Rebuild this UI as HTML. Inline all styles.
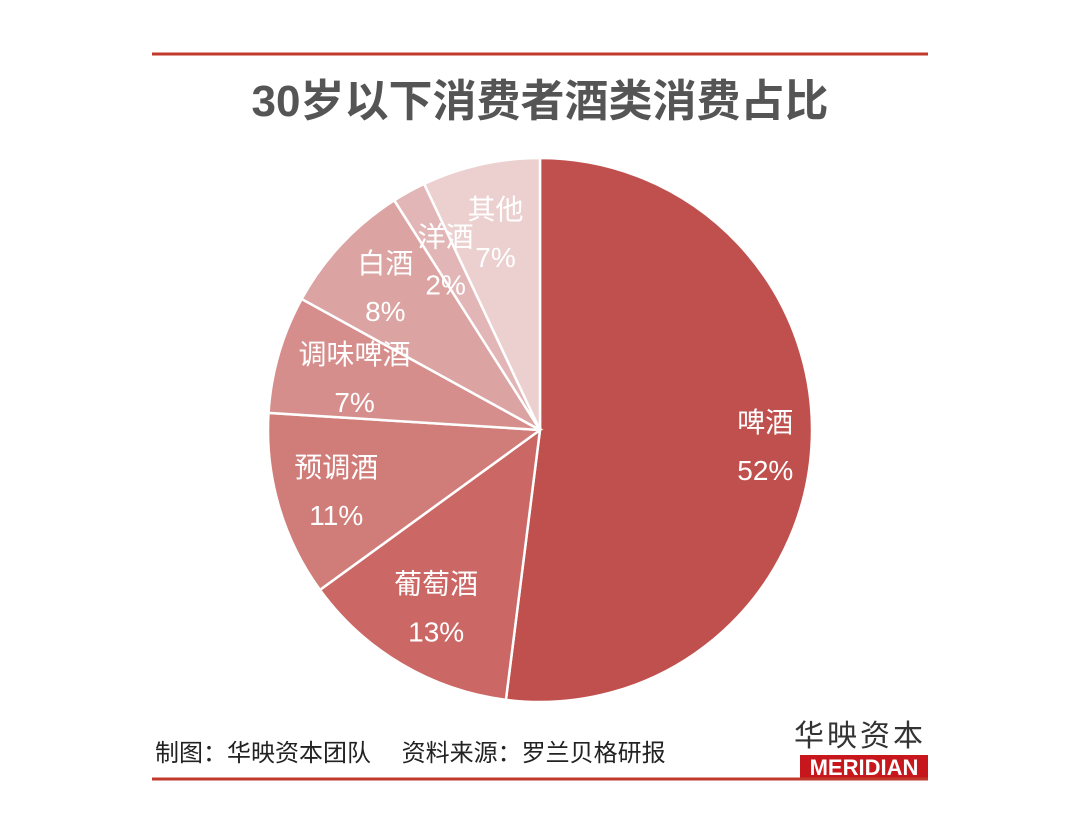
<!DOCTYPE html>
<html><head><meta charset="utf-8"><style>
body{margin:0;background:#fff;}
svg{display:block;}
</style></head><body>
<svg width="1080" height="818" viewBox="0 0 1080 818">
<line x1="152" y1="54" x2="928" y2="54" stroke="#c0392b" stroke-width="3"/>
<text x="540" y="116" text-anchor="middle" font-family="'Liberation Sans','Noto Sans CJK SC',sans-serif" font-size="44" font-weight="bold" fill="#555">30岁以下消费者酒类消费占比</text>
<g id="pie"></g>
<text x="155" y="761" font-family="'Liberation Sans','Noto Sans CJK SC',sans-serif" font-size="24" fill="#222">制图：华映资本团队　 资料来源：罗兰贝格研报</text>
<text x="860" y="746" text-anchor="middle" font-family="'Liberation Sans','Noto Sans CJK SC',sans-serif" font-size="30" fill="#333" letter-spacing="3">华映资本</text>
<rect x="800" y="755" width="128" height="24" fill="#c8161d"/>
<text x="864" y="775" text-anchor="middle" font-family="'Liberation Sans',sans-serif" font-size="22" font-weight="bold" fill="#fff">MERIDIAN</text>
<line x1="152" y1="779" x2="928" y2="779" stroke="#c0392b" stroke-width="3"/>
</svg>
<script>
const categories=["啤酒","葡萄酒","预调酒","调味啤酒","白酒","洋酒","其他"];
const values=[52,13,11,7,8,2,7];
const labels=["52%","13%","11%","7%","8%","2%","7%"];
const colors=["#c0504d","#cb6764","#d07d7a","#d58e8b","#dba3a2","#e2b6b6","#ebd0cf"];
const cx=540,cy=430,R=272;
const labelR=[0.83,0.75,0.78,0.71,0.78,0.72,0.75];
const g=document.getElementById('pie');
const NS="http://www.w3.org/2000/svg";
const total=values.reduce((a,b)=>a+b,0);
function pt(a,r){return [cx+r*Math.sin(a),cy-r*Math.cos(a)];}
let acc=0;
values.forEach((v,i)=>{
  const a0=acc/total*2*Math.PI; acc+=v; const a1=acc/total*2*Math.PI;
  const p0=pt(a0,R),p1=pt(a1,R);
  const path=document.createElementNS(NS,'path');
  path.setAttribute('d',`M${cx},${cy}L${p0[0]},${p0[1]}A${R},${R} 0 ${a1-a0>Math.PI?1:0} 1 ${p1[0]},${p1[1]}Z`);
  path.setAttribute('fill',colors[i]);
  path.setAttribute('stroke','#fff');
  path.setAttribute('stroke-width','2.5');
  
  
  g.appendChild(path);
});
acc=0;
values.forEach((v,i)=>{
  const am=(acc+v/2)/total*2*Math.PI; acc+=v;
  const p=pt(am,R*labelR[i]);
  const t=document.createElementNS(NS,'text');
  t.setAttribute('text-anchor','middle');
  t.setAttribute('font-family',"'Liberation Sans','Noto Sans CJK SC',sans-serif");
  t.setAttribute('font-size','28');
  t.setAttribute('fill','#fff');
  
  
  const s1=document.createElementNS(NS,'tspan');
  s1.setAttribute('x',p[0]);s1.setAttribute('y',p[1]-12);s1.textContent=categories[i];
  const s2=document.createElementNS(NS,'tspan');
  s2.setAttribute('x',p[0]);s2.setAttribute('y',p[1]+36);s2.textContent=labels[i];
  t.appendChild(s1);t.appendChild(s2);
  g.appendChild(t);
});
</script>
</body></html>
